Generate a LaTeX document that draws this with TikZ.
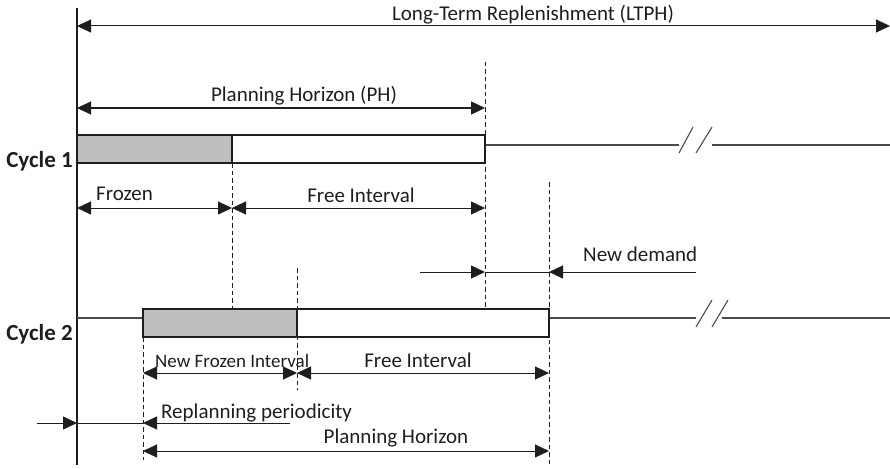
\documentclass[tikz,border=0pt]{standalone}
\usepackage{fontspec}
\setmainfont{Carlito}
\usetikzlibrary{arrows.meta}
\definecolor{ink}{HTML}{1E1E1E}
\definecolor{frozengray}{HTML}{BEBEBE}
\begin{document}
\begin{tikzpicture}[x=1pt,y=-1pt,
  every node/.style={inner sep=0pt,text=ink},
  lbl/.style={font=\fontsize{21}{25}\selectfont},
  smalllbl/.style={font=\fontsize{19}{23}\selectfont},
  cyc/.style={font=\bfseries\fontsize{23}{27}\selectfont},
  dim/.style={draw=ink,line width=1pt},
  tip/.style={-{Triangle[length=14pt,width=13pt]}},
  twotip/.style={{Triangle[length=14pt,width=13pt]}-{Triangle[length=14pt,width=13pt]}},
  guide/.style={draw=ink,line width=1pt,dash pattern=on 4.5pt off 3pt},
  timeline/.style={draw=ink!80,line width=1.1pt},
  barbox/.style={draw=ink,line width=1.8pt,minimum height=28pt,anchor=north west,outer sep=0pt},
  frozenbox/.style={barbox,fill=frozengray},
  freebox/.style={barbox,fill=white},
]
\useasboundingbox (0,0) rectangle (890,468);

% time axis
\coordinate (axT) at (77,8);
\coordinate (axB) at (77,465);
\draw[line width=1.2pt,draw=ink] (axT) -- (axB);

% long-term replenishment horizon
\coordinate (lt0) at (77,26);
\coordinate (lt1) at (890,26);
\draw[dim,twotip] (lt0) -- (lt1);
\node[lbl,anchor=base] (ltlbl) at (533,21) {Long-Term Replenishment (LTPH)};

% planning horizon of cycle 1
\coordinate (ph0) at (77,108);
\coordinate (ph1) at (485,108);
\draw[dim,twotip] (ph0) -- (ph1);
\node[lbl,anchor=base] (phlbl) at (304,102) {Planning Horizon (PH)};

% vertical guides
\coordinate (g1t) at (485,62);
\coordinate (g1b) at (485,308);
\draw[guide] (g1t) -- (g1b);
\coordinate (g3t) at (549,182);
\coordinate (g3b) at (549,465);
\draw[guide] (g3t) -- (g3b);
\coordinate (g4t) at (297,268);
\coordinate (g4b) at (297,390);
\draw[guide] (g4t) -- (g4b);
\coordinate (g2t) at (232,163);
\coordinate (g2b) at (232,308);
\draw[guide] (g2t) -- (g2b);
\coordinate (g5t) at (143,337);
\coordinate (g5b) at (143,460);
\draw[guide] (g5t) -- (g5b);

% cycle 1 bar
\coordinate (c1a) at (485,145);
\coordinate (c1b) at (679,145);
\coordinate (c1c) at (712,145);
\coordinate (c1d) at (890,145);
\draw[timeline] (c1a) -- (c1b);
\draw[timeline] (c1c) -- (c1d);
\draw[timeline] (679,153) -- (693,127);
\draw[timeline] (696,153) -- (712,127);
\node[frozenbox,minimum width=155pt] (fz1) at (77,135) {};
\node[freebox,minimum width=253pt] (fr1) at (232,135) {};
\node[cyc,anchor=base east] (cy1) at (73,167) {Cycle 1};

% frozen / free intervals of cycle 1
\coordinate (f1a) at (77,208);
\coordinate (f1b) at (232,208);
\coordinate (f1c) at (485,208);
\draw[dim,twotip] (f1a) -- (f1b);
\draw[dim,twotip] (f1b) -- (f1c);
\node[lbl,anchor=base west] (frzlbl) at (96,200) {Frozen};
\node[lbl,anchor=base] (fre1lbl) at (361,202) {Free Interval};

% new demand
\coordinate (nd0) at (420,272);
\coordinate (nd1) at (485,272);
\coordinate (nd2) at (549,272);
\coordinate (nd3) at (696,272);
\draw[dim,tip] (nd0) -- (nd1);
\draw[dim] (nd1) -- (nd2);
\draw[dim,tip] (nd3) -- (nd2);
\node[lbl,anchor=base west] (ndlbl) at (583,261) {New demand};

% cycle 2 bar
\coordinate (c2a) at (77,318);
\coordinate (c2b) at (143,318);
\coordinate (c2c) at (549,318);
\coordinate (c2d) at (696,318);
\coordinate (c2e) at (722,318);
\coordinate (c2f) at (890,318);
\draw[timeline] (c2a) -- (c2b);
\draw[timeline] (c2c) -- (c2d);
\draw[timeline] (c2e) -- (c2f);
\draw[timeline] (696,327) -- (712,300);
\draw[timeline] (712,327) -- (728,300);
\node[frozenbox,minimum width=154pt] (fz2) at (143,309) {};
\node[freebox,minimum width=252pt] (fr2) at (297,309) {};
\node[cyc,anchor=base east] (cy2) at (73,340) {Cycle 2};

% frozen / free intervals of cycle 2
\coordinate (f2a) at (143,373);
\coordinate (f2b) at (297,373);
\coordinate (f2c) at (549,373);
\draw[dim,twotip] (f2a) -- (f2b);
\draw[dim,twotip] (f2b) -- (f2c);
\node[smalllbl,anchor=base west] (nfzlbl) at (155,367) {New Frozen Interval};
\node[lbl,anchor=base] (fre2lbl) at (418,367) {Free Interval};

% replanning periodicity
\coordinate (rp0) at (37,423);
\coordinate (rp1) at (77,423);
\coordinate (rp2) at (143,423);
\coordinate (rp3) at (290,423);
\draw[dim,tip] (rp0) -- (rp1);
\draw[dim] (rp1) -- (rp2);
\draw[dim,tip] (rp3) -- (rp2);
\node[lbl,anchor=base west] (rplbl) at (161,418) {Replanning periodicity};

% planning horizon of cycle 2
\coordinate (p2a) at (143,451);
\coordinate (p2b) at (549,451);
\draw[dim,twotip] (p2a) -- (p2b);
\node[lbl,anchor=base] (p2lbl) at (396,443) {Planning Horizon};
\end{tikzpicture}
\end{document}
